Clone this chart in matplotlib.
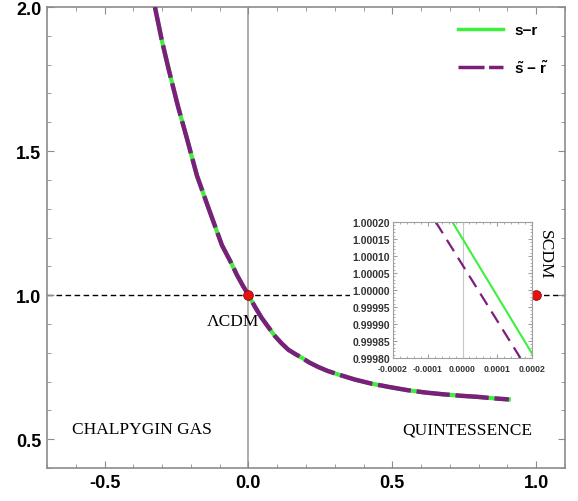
import matplotlib
matplotlib.use("Agg")
import matplotlib.pyplot as plt
from matplotlib.ticker import MultipleLocator, FormatStrFormatter
from matplotlib.patches import Rectangle

# curve (s, r)
s_vals = [-0.325, -0.300, -0.277, -0.245, -0.213, -0.179, -0.138, -0.092, -0.060, -0.040,
          -0.020, 0.000, 0.023, 0.046, 0.070, 0.092, 0.115, 0.138, 0.162, 0.185,
          0.212, 0.242, 0.275, 0.311, 0.370, 0.427, 0.490, 0.554, 0.615, 0.675,
          0.735, 0.796, 0.850, 0.905]
r_vals = [2.000, 1.880, 1.783, 1.656, 1.541, 1.415, 1.300, 1.173, 1.112, 1.070,
          1.034, 1.000, 0.959, 0.921, 0.888, 0.858, 0.833, 0.811, 0.796, 0.783,
          0.766, 0.751, 0.737, 0.725, 0.707, 0.693, 0.681, 0.670, 0.662, 0.656,
          0.651, 0.647, 0.642, 0.638]
st_vals = s_vals
rt_vals = r_vals

# zoomed view near (0, 1)
inset_s = [-0.0000293, 0.0002]
inset_r = [1.0002, 0.999813]
inset_st = [-0.0000772, 0.0001664]
inset_rt = [1.0002, 0.9998]

# fixed points
fp_s = [0.0, 1.0]
fp_r = [1.0, 1.0]

green = '#3cf03c'
purple = '#7a1f7c'
gray = '#8c8c8c'

plt.rcParams['font.family'] = ['Liberation Sans', 'DejaVu Sans']
plt.rcParams['mathtext.fontset'] = 'custom'
plt.rcParams['mathtext.bf'] = 'Liberation Sans:bold'
plt.rcParams['mathtext.rm'] = 'Liberation Sans'

fig = plt.figure(figsize=(5.78, 5.02), dpi=100)
ax = fig.add_axes([0.0813, 0.0657, 0.8962, 0.9183])

ax.axvline(0, color='#a0a0a0', lw=1.2, zorder=1)
ax.axhline(1.0, color='black', lw=1, ls=(0, (4, 2.5)), zorder=1)

ax.plot(s_vals, r_vals, color=green, lw=3, label='s\u2212r', zorder=3)
ax.plot(st_vals, rt_vals, color=purple, lw=3.2, dashes=(7.5, 1.3),
        label=r'$\mathbf{\tilde{s}}$ $\mathbf{-}$ $\mathbf{\tilde{r}}$', zorder=4)

# white area behind the inset and its labels
ax.add_patch(Rectangle((350 / 578, 1 - 362 / 502), (533 - 350) / 578, (362 - 218) / 502,
                       transform=fig.transFigure, facecolor='white', edgecolor='none',
                       zorder=5, clip_on=False))

ax.plot(fp_s, fp_r, 'o', color='#e81010', mec='#801010', mew=0.6, ms=7, zorder=6)

serif = ['Liberation Serif', 'DejaVu Serif']
ax.text(-0.055, 0.912, '\u039bCDM', family=serif, fontsize=12.5, ha='center', va='center')
ax.text(1.031, 1.145, 'SCDM', family=serif, fontsize=12.5, ha='center', va='center', rotation=270)
ax.text(-0.37, 0.534, 'CHALPYGIN GAS', family=serif, fontsize=12.5, ha='center', va='center')
ax.text(0.761, 0.534, 'QUINTESSENCE', family=serif, fontsize=12.5, ha='center', va='center')

ax.set_xlim(-0.7, 1.1)
ax.set_ylim(0.4, 2.0)
ax.xaxis.set_major_locator(MultipleLocator(0.5))
ax.xaxis.set_minor_locator(MultipleLocator(0.1))
ax.yaxis.set_major_locator(MultipleLocator(0.5))
ax.yaxis.set_minor_locator(MultipleLocator(0.1))
ax.xaxis.set_major_formatter(FormatStrFormatter('%.1f'))
ax.yaxis.set_major_formatter(FormatStrFormatter('%.1f'))
ax.tick_params(which='both', direction='in', top=True, right=True, color=gray)
ax.tick_params(which='major', length=5, labelsize=13, pad=4)
ax.tick_params(which='minor', length=3)
for lab in ax.get_xticklabels() + ax.get_yticklabels():
    lab.set_fontweight('bold')
for sp in ax.spines.values():
    sp.set_color(gray)
    sp.set_linewidth(1.2)

leg = ax.legend(loc='upper right', frameon=False, handlelength=3.0,
                prop={'weight': 'bold', 'size': 11}, labelspacing=1.4,
                bbox_to_anchor=(0.995, 0.995), handletextpad=0.7)
for line in leg.get_lines():
    line.set_linewidth(2.5)

# inset
axi = fig.add_axes([0.680, 0.2849, 0.2405, 0.271])
axi.axvline(0, color='#c8c8c8', lw=0.8)
axi.plot(inset_s, inset_r, color=green, lw=1.5)
axi.plot(inset_st, inset_rt, color=purple, lw=1.6, dashes=(6, 3.5))
axi.set_xlim(-0.0002, 0.0002)
axi.set_ylim(0.9998, 1.0002)
axi.xaxis.set_major_locator(MultipleLocator(0.0001))
axi.xaxis.set_minor_locator(MultipleLocator(0.00002))
axi.yaxis.set_major_locator(MultipleLocator(0.00005))
axi.yaxis.set_minor_locator(MultipleLocator(0.00001))
axi.xaxis.set_major_formatter(FormatStrFormatter('%.4f'))
axi.yaxis.set_major_formatter(FormatStrFormatter('%.5f'))
axi.tick_params(which='both', direction='in', top=True, right=True, color='#a0a0a0')
axi.tick_params(which='major', length=3)
axi.tick_params(axis='y', labelsize=7.5, pad=2)
axi.tick_params(axis='x', labelsize=6.3, pad=4)
axi.tick_params(which='minor', length=1.5)
for lab in axi.get_xticklabels() + axi.get_yticklabels():
    lab.set_fontweight('bold')
    lab.set_color('#333333')
for sp in axi.spines.values():
    sp.set_color('#a0a0a0')
    sp.set_linewidth(0.8)

fig.savefig('out.png', dpi=100)
